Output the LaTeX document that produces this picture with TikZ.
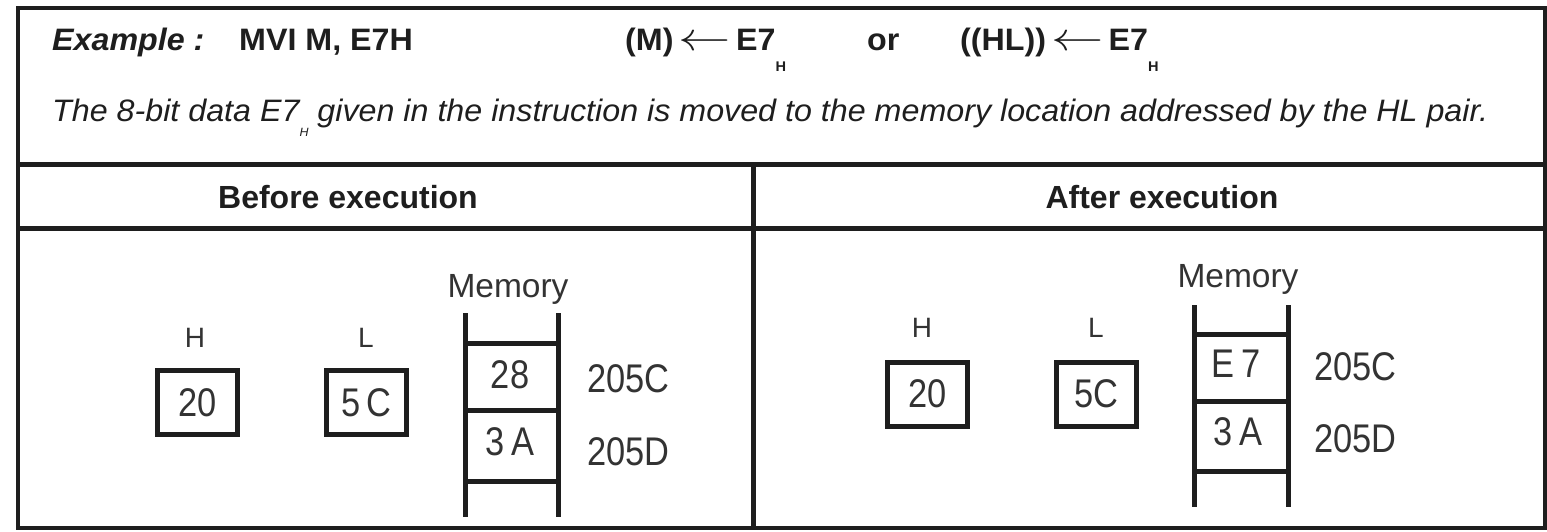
\documentclass[tikz,border=0pt]{standalone}
\usepackage{fontspec}
\setmainfont{Liberation Sans}
\newfontfamily\nsans[FakeStretch=0.86]{Liberation Sans}
\newfontfamily\wsans[FakeStretch=1.04]{Liberation Sans}
\definecolor{ink}{HTML}{1E1E1E}
\definecolor{gink}{HTML}{333333}
\begin{document}
\begin{tikzpicture}[x=1pt,y=-1pt,
  frame/.style={draw=ink,line width=4pt},
  rule/.style={draw=ink,line width=5pt},
  ladder/.style={draw=ink,line width=5pt},
  regbox/.style={draw=ink,line width=5pt,minimum width=80pt,minimum height=64pt,inner sep=0pt,
    text=gink,font=\nsans\fontsize{40}{40}\selectfont},
  reglbl/.style={inner sep=0pt,anchor=base,text=gink,font=\fontsize{28}{28}\selectfont},
  memlbl/.style={inner sep=0pt,anchor=base,text=gink,font=\fontsize{33.5}{34}\selectfont},
  cell/.style={inner sep=0pt,anchor=base,text=gink,font=\nsans\fontsize{40}{40}\selectfont},
  addr/.style={inner sep=0pt,anchor=base west,text=gink,font=\nsans\fontsize{40}{40}\selectfont},
  head/.style={inner sep=0pt,anchor=base west,text=ink,font=\wsans\bfseries\fontsize{31}{31}\selectfont},
  desc/.style={inner sep=0pt,anchor=base west,text=ink,font=\wsans\itshape\fontsize{31}{31}\selectfont},
  title/.style={inner sep=0pt,anchor=base,text=ink,font=\bfseries\fontsize{32}{32}\selectfont}
]
\useasboundingbox (0,0) rectangle (1547,531);
\fill[white] (0,0) rectangle (1547,531);
\newcommand{\subH}{\raisebox{-21pt}{\fontsize{14}{14}\selectfont H}}
\newcommand{\larr}{\,\scalebox{2.1}[1.6]{$\leftarrow$}\,}
% frame and rules
\draw[frame] (18,8) rectangle (1545,528);
\draw[rule] (18,164) -- (1545,164);
\draw[rule] (18,228) -- (1545,228);
\draw[rule] (753,164) -- (753,528);
% header
\node[head] (ex) at (52,50) {\itshape Example :};
\node[head] (mvi) at (239,50) {MVI M, E7H};
\node[head] (eq1) at (625,50) {(M)\larr E7\subH};
\node[head] (or) at (867,50) {or};
\node[head] (eq2) at (960,50) {((HL))\larr E7\subH};
\node[desc] (dsc) at (52,121) {The 8-bit data E7\raisebox{-15pt}{\fontsize{12}{12}\selectfont H} given in the instruction is moved to the memory location addressed by the HL pair.};
% titles
\node[title] (tb) at (348,208) {Before execution};
\node[title] (ta) at (1162,208) {After execution};
% ---------- before ----------
\node[reglbl] (hl1) at (195,347) {H};
\node[reglbl] (ll1) at (366,347) {L};
\node[regbox] (h1) at (197.5,402.5) {20};
\node[regbox] (l1) at (366.5,402.5) {5\,C};
\node[memlbl] (m1) at (508,297) {Memory};
\draw[ladder] (465,313) -- (465,517);
\draw[ladder] (558,313) -- (558,517);
\draw[ladder] (465,343) -- (558,343);
\draw[ladder] (465,410) -- (558,410);
\draw[ladder] (465,481) -- (558,481);
\node[cell] (c11) at (510,388) {28};
\node[cell] (c12) at (510,455) {3\,A};
\node[addr] (a11) at (587,392) {205C};
\node[addr] (a12) at (587,465) {205D};
% ---------- after ----------
\node[reglbl] (hl2) at (922,337) {H};
\node[reglbl] (ll2) at (1096,337) {L};
\node[regbox] (h2) at (927.5,394) {20};
\node[regbox] (l2) at (1096,394) {5C};
\node[memlbl] (m2) at (1238,287) {Memory};
\draw[ladder] (1194,305) -- (1194,507);
\draw[ladder] (1288,305) -- (1288,507);
\draw[ladder] (1194,334) -- (1288,334);
\draw[ladder] (1194,401) -- (1288,401);
\draw[ladder] (1194,471) -- (1288,471);
\node[cell] (c21) at (1236,377) {E\,7};
\node[cell] (c22) at (1238,445) {3\,A};
\node[addr] (a21) at (1314,380) {205C};
\node[addr] (a22) at (1314,452) {205D};
\end{tikzpicture}
\end{document}
